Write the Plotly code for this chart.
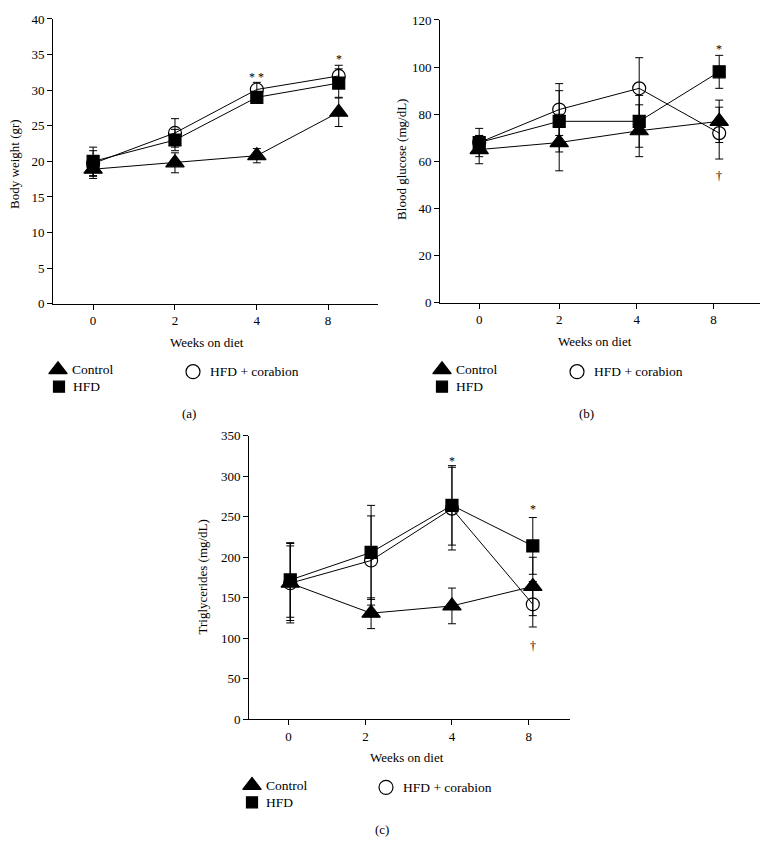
import plotly.graph_objects as go

weeks = ["0", "2", "4", "8"]
groups = ["Control", "HFD", "HFD + corabion"]

# Panel (a) Body weight (gr)
bw_control = [18.9, 19.8, 20.8, 26.9]
bw_control_err = [1.3, 1.4, 1.0, 2.0]
bw_hfd = [20.0, 23.0, 29.0, 31.0]
bw_hfd_err = [2.0, 1.5, 0.7, 2.0]
bw_cor = [19.7, 24.0, 30.1, 32.0]
bw_cor_err = [1.8, 2.0, 1.0, 1.5]
bw_sig = [("", None), ("", None), ("* *", 31.9), ("*", 34.4)]

# Panel (b) Blood glucose (mg/dL)
bg_control = [65, 68, 73, 77]
bg_control_err = [6, 12, 11, 9]
bg_hfd = [68, 77, 77, 98]
bg_hfd_err = [6, 13, 11, 7]
bg_cor = [68, 82, 91, 72]
bg_cor_err = [3, 11, 13, 11]
bg_sig_top = [("", None), ("", None), ("", None), ("*", 107.5)]
bg_sig_bot = [("", None), ("", None), ("", None), ("†", 54)]

# Panel (c) Triglycerides (mg/dL)
tg_control = [168, 131, 140, 164]
tg_control_err = [46, 19, 22, 36]
tg_hfd = [172, 206, 264, 214]
tg_hfd_err = [46, 58, 49, 35]
tg_cor = [168, 196, 260, 142]
tg_cor_err = [49, 55, 51, 28]
tg_sig_top = [("", None), ("", None), ("*", 319), ("*", 259)]
tg_sig_bot = [("", None), ("", None), ("", None), ("†", 91)]

# screen mapping: x_screen = OX + x_fig ; y_screen = AY + BY * y_fig
OX = 8
AY, BY = 14.0, 0.983
W, H = 753, 842
FONT = "Liberation Serif"

fig = go.Figure()

sym = {"Control": "triangle-up", "HFD": "square", "HFD + corabion": "circle-open"}
msize = {"Control": 16, "HFD": 12, "HFD + corabion": 13}

panels = [
    dict(ax="", data={"Control": (bw_control, bw_control_err), "HFD": (bw_hfd, bw_hfd_err),
                      "HFD + corabion": (bw_cor, bw_cor_err)},
         sig=[bw_sig]),
    dict(ax="2", data={"Control": (bg_control, bg_control_err), "HFD": (bg_hfd, bg_hfd_err),
                       "HFD + corabion": (bg_cor, bg_cor_err)},
         sig=[bg_sig_top, bg_sig_bot]),
    dict(ax="3", data={"Control": (tg_control, tg_control_err), "HFD": (tg_hfd, tg_hfd_err),
                       "HFD + corabion": (tg_cor, tg_cor_err)},
         sig=[tg_sig_top, tg_sig_bot]),
]

xidx = list(range(len(weeks)))
annotations = []
for p in panels:
    for g in ["HFD + corabion", "HFD", "Control"]:
        vals, err = p["data"][g]
        fig.add_trace(go.Scatter(
            x=xidx, y=vals, mode="lines+markers",
            xaxis="x" + p["ax"], yaxis="y" + p["ax"],
            line=dict(color="black", width=1),
            marker=dict(symbol=sym[g], size=msize[g], color="black",
                        line=dict(color="black", width=1.2)),
            error_y=dict(type="data", array=err, color="black", thickness=1, width=4),
            showlegend=False, name=g))
    for s in p["sig"]:
        for i, (t, yv) in enumerate(s):
            if t:
                annotations.append(dict(x=xidx[i], y=yv, xref="x" + p["ax"], yref="y" + p["ax"],
                                        text=t, showarrow=False, yanchor="middle",
                                        font=dict(family=FONT, size=12, color="black")))


def px(x0, x1):
    return [(x0 - OX) / W, (x1 - OX) / W]


def py(top, bottom):
    return [1 - (bottom - AY) / (BY * H), 1 - (top - AY) / (BY * H)]


axis_common = dict(showgrid=False, zeroline=False, showline=True, linecolor="black", linewidth=1,
                   ticks="outside", ticklen=5, tickwidth=1, tickcolor="black",
                   tickfont=dict(family=FONT, size=13, color="black"))

layout = dict(
    width=W, height=H, margin=dict(l=0, r=0, t=0, b=0),
    paper_bgcolor="white", plot_bgcolor="rgba(0,0,0,0)", showlegend=False,
    xaxis=dict(domain=px(53, 378), range=[-0.49, 3.48], anchor="y",
               tickvals=[0, 1, 2, 2.87], ticktext=weeks, **axis_common),
    yaxis=dict(domain=py(18, 303), range=[0, 40], anchor="x", dtick=5, **axis_common),
    xaxis2=dict(domain=px(440, 760), range=[-0.49, 3.51], anchor="y2",
                tickvals=[0, 1, 1.97, 2.93], ticktext=weeks, **axis_common),
    yaxis2=dict(domain=py(19, 302), range=[0, 120], anchor="x2", dtick=20, **axis_common),
    xaxis3=dict(domain=px(249, 570), range=[-0.51, 3.46], anchor="y3",
                tickvals=[-0.02, 0.93, 2.0, 2.95], ticktext=weeks, **axis_common),
    yaxis3=dict(domain=py(435, 719), range=[0, 350], anchor="x3", dtick=50, **axis_common),
    xaxis4=dict(domain=[0, 1], range=[OX, OX + W], anchor="y4", visible=False, fixedrange=True),
    yaxis4=dict(domain=[0, 1], range=[AY + BY * H, AY], anchor="x4", visible=False, fixedrange=True),
)

leg_pos = [
    dict(tri=(58, 369), sq=(59, 386), circ=(193, 371)),
    dict(tri=(442, 369), sq=(442, 386), circ=(577, 371)),
    dict(tri=(252, 785), sq=(252, 802), circ=(386, 787)),
]
for lp in leg_pos:
    for key, g in [("tri", "Control"), ("sq", "HFD"), ("circ", "HFD + corabion")]:
        x, y = lp[key]
        fig.add_trace(go.Scatter(x=[x], y=[y], xaxis="x4", yaxis="y4", mode="markers",
                                 marker=dict(symbol=sym[g], size=msize[g] + (0 if g == "Control" else (1 if g != "HFD" else -1)),
                                             color="black", line=dict(color="black", width=1.2)),
                                 showlegend=False, hoverinfo="skip"))
        annotations.append(dict(x=x + 12 + (3 if key == "circ" else 0), y=y, xref="x4", yref="y4",
                                text=g, showarrow=False, xanchor="left", yanchor="middle",
                                font=dict(family=FONT, size=13.5, color="black")))


def text(x, y, t, angle=0, size=13):
    annotations.append(dict(x=x, y=y, xref="x4", yref="y4", text=t, showarrow=False,
                            textangle=angle, xanchor="center", yanchor="middle",
                            font=dict(family=FONT, size=size, color="black")))


text(207, 342, "Weeks on diet")
text(595, 341, "Weeks on diet")
text(407, 757, "Weeks on diet")
text(15, 163, "Body weight (gr)", -90)
text(402, 159, "Blood glucose (mg/dL)", -90)
text(203, 577, "Triglycerides (mg/dL)", -90)
text(189, 413, "(a)")
text(586, 413, "(b)")
text(382, 829, "(c)")

layout["annotations"] = annotations
fig.update_layout(**layout)
fig.write_html("out.html")
